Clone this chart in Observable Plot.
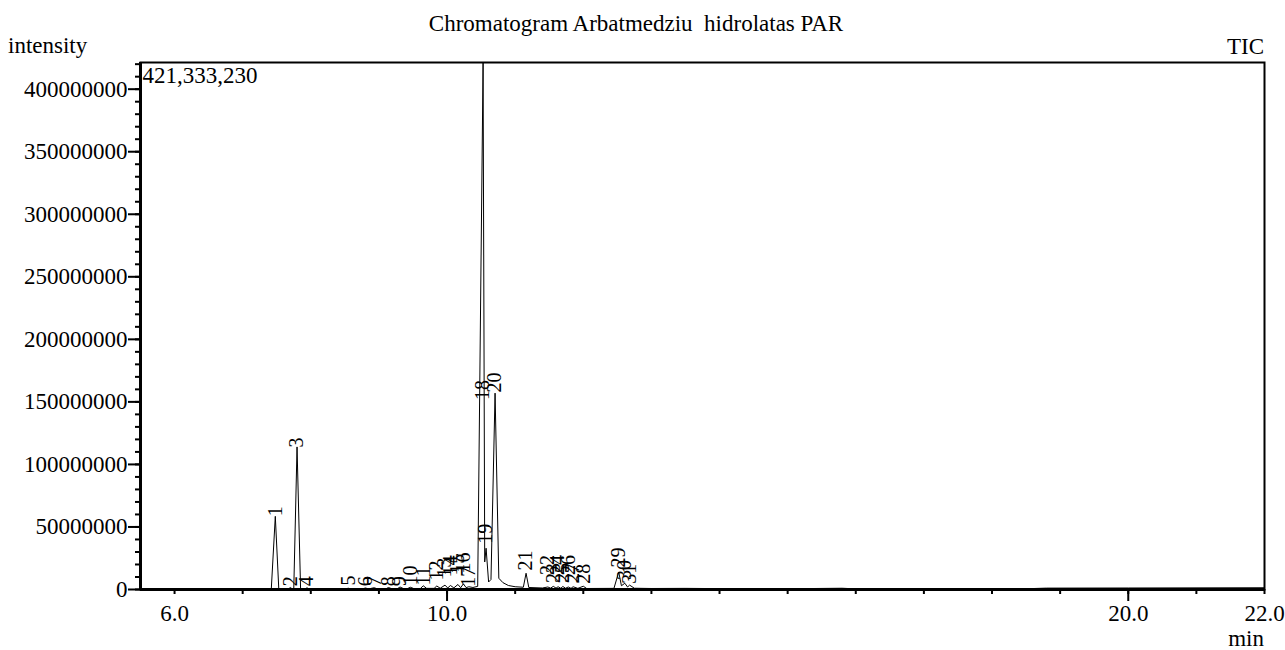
<!DOCTYPE html>
<html><head><meta charset="utf-8">
<script src="https://cdn.jsdelivr.net/npm/d3@7"></script>
<script src="https://cdn.jsdelivr.net/npm/@observablehq/plot@0.6"></script>
<style>body{margin:0;background:#fff} svg text{white-space:pre}</style>
</head><body><div id="chart"></div>
<script>
const chartTitle = "Chromatogram Arbatmedziu  hidrolatas PAR";
const yTitle = "intensity";
const xTitle = "min";
const traceName = "TIC";
const maxIntensity = 421333230;
const maxText = "421,333,230";

// TIC trace: [retention time (min), intensity (millions)]
const tracePoints = [
  [5.5,0.2],[7.42,0.3],[7.479,58.5],[7.53,0.4],[7.67,0.4],[7.70,1.6],[7.73,0.4],[7.75,0.5],
  [7.798,114],[7.85,0.6],[7.91,0.4],[7.944,1.3],[7.98,0.4],[8.50,0.4],[8.55,1.0],[8.60,0.4],
  [8.76,0.4],[8.80,1.2],[8.85,0.5],[8.93,1.4],[8.98,0.5],[9.10,0.5],[9.14,1.6],[9.19,0.6],
  [9.27,0.6],[9.31,2.0],[9.36,0.7],[9.42,0.7],[9.46,1.8],[9.51,0.8],[9.61,0.8],[9.65,3.0],
  [9.70,0.9],[9.81,0.9],[9.85,2.8],[9.90,1.0],[9.97,3.5],[10.01,1.2],[10.05,3.2],[10.10,1.3],
  [10.16,4.0],[10.20,1.4],[10.24,4.5],[10.28,1.5],[10.32,2.2],[10.38,1.6],[10.45,2.5],
  [10.529,421.333230],[10.553,22],[10.573,33],[10.61,6],[10.645,8],[10.705,157],[10.76,9],
  [10.82,5.5],[10.90,3.2],[11.00,2.2],[11.12,1.8],[11.16,13],[11.20,1.6],[11.40,1.2],
  [11.48,2.0],[11.52,1.1],[11.56,2.5],[11.60,1.1],[11.63,2.2],[11.67,1.0],[11.70,2.4],
  [11.74,1.0],[11.78,2.0],[11.82,0.9],[11.85,2.2],[11.92,0.9],[12.00,2.6],[12.05,0.8],
  [12.45,0.9],[12.52,14],[12.56,3],[12.61,5],[12.65,2],[12.68,3.5],[12.75,1.0],[13.0,0.8],
  [13.5,0.9],[14.0,0.7],[15.0,0.6],[15.8,1.0],[16.0,0.5],[18.5,0.6],[18.8,1.1],[20.0,1.2],[22.0,1.4]
];

// Peak labels: number, retention time, intensity (millions) where the label sits
const peakNumbers = [1,2,3,4,5,6,7,8,9,10,11,12,13,14,15,16,17,18,19,20,21,22,23,24,25,26,27,28,29,30,31];
const peakTimes = [7.479,7.70,7.798,7.944,8.55,8.80,8.93,9.14,9.31,9.46,9.65,9.85,9.97,10.05,10.16,10.24,10.32,
  10.529,10.573,10.705,11.16,11.48,11.56,11.63,11.70,11.78,11.85,12.00,12.52,12.61,12.68];
const labelLevels = [57,1,112,1,1.5,1,1,1,1,1.5,1.5,5.5,8,9.5,11,12,0.5,
  150,35,156,13.6,10,3.5,10,3.5,10,3.5,3,16,6,3];

const yMajor = [0,50e6,100e6,150e6,200e6,250e6,300e6,350e6,400e6];
const yMinor = d3.range(0, 421e6, 10e6);
const xMinor = d3.range(6, 23, 1);
const xMajor = [10, 20];
const xLabels = [6, 10, 20, 22];

const trace = tracePoints.map(([t, v]) => ({t, v: v * 1e6}));
const peaks = peakNumbers.map((n, i) => ({label: String(n), t: peakTimes[i], y: labelLevels[i] * 1e6}));

const FONT = "'Liberation Serif', 'Times New Roman', serif";

const chart = Plot.plot({
  width: 1285, height: 650,
  marginLeft: 140, marginRight: 21, marginTop: 62, marginBottom: 61,
  x: {domain: [5.5, 22]},
  y: {domain: [0, maxIntensity]},
  style: {fontFamily: FONT, fontSize: "23px", background: "white", color: "black", overflow: "visible"},
  marks: [
    Plot.line(trace, {x: "t", y: "v", stroke: "black", strokeWidth: 1}),
    Plot.text(peaks, {x: "t", y: "y", text: "label", rotate: -90, textAnchor: "start", dy: -2, fontSize: 20, fill: "black"}),
    Plot.frame({stroke: "black", strokeWidth: 2}),
    Plot.ruleX([5.5], {stroke: "black", strokeWidth: 3}),
    Plot.ruleY([0], {stroke: "black", strokeWidth: 3}),
    Plot.axisY(yMajor, {tickSize: 12, tickPadding: 1, strokeWidth: 2, tickFormat: d => String(d), label: null}),
    Plot.axisY(yMinor, {tickSize: 5, strokeWidth: 2, tickFormat: () => "", label: null}),
    Plot.axisX(xMinor, {tickSize: 5, strokeWidth: 2, tickFormat: () => "", label: null}),
    Plot.axisX(xMajor, {tickSize: 12, strokeWidth: 2, tickFormat: () => "", label: null}),
    Plot.axisX(xLabels, {tickSize: 0, tickPadding: 15, tickFormat: d => d.toFixed(1), label: null}),
    Plot.text([maxText], {frameAnchor: "top-left", dx: 2, dy: 4, lineAnchor: "top", textAnchor: "start", fill: "black"})
  ]
});
document.getElementById("chart").append(chart);

const svg = d3.select(chart);
function addText(x, y, anchor, size, txt) {
  svg.append("text").attr("x", x).attr("y", y).attr("text-anchor", anchor)
    .attr("font-family", FONT).attr("font-size", size).attr("fill", "black").text(txt);
}
addText(636, 31, "middle", 23, chartTitle);
addText(8, 53, "start", 23, yTitle);
addText(1264, 54, "end", 23, traceName);
addText(1264, 646, "end", 23, xTitle);
</script></body></html>
